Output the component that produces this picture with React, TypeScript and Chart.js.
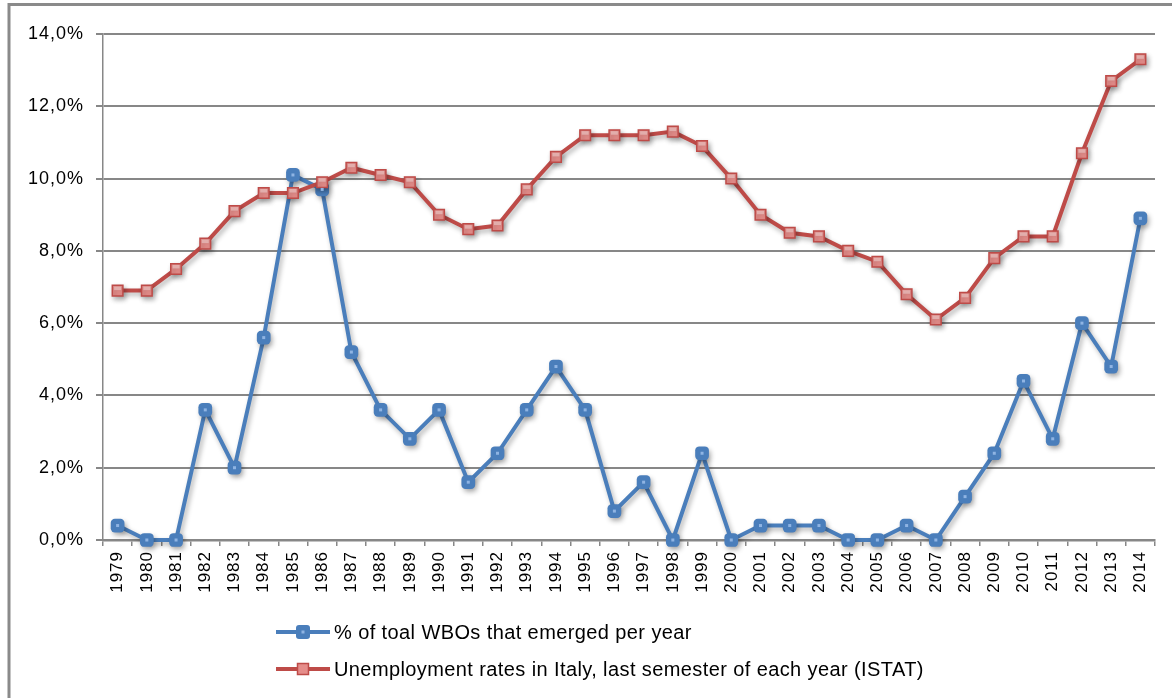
import React, { useEffect, useRef } from "react";
import { Chart, registerables } from "chart.js";

Chart.register(...registerables);

const years = [
  "1979", "1980", "1981", "1982", "1983", "1984", "1985", "1986", "1987", "1988",
  "1989", "1990", "1991", "1992", "1993", "1994", "1995", "1996", "1997", "1998",
  "1999", "2000", "2001", "2002", "2003", "2004", "2005", "2006", "2007", "2008",
  "2009", "2010", "2011", "2012", "2013", "2014",
];

const wboShare = [
  0.4, 0, 0, 3.6, 2.0, 5.6, 10.1, 9.7, 5.2, 3.6,
  2.8, 3.6, 1.6, 2.4, 3.6, 4.8, 3.6, 0.8, 1.6, 0,
  2.4, 0, 0.4, 0.4, 0.4, 0, 0, 0.4, 0, 1.2,
  2.4, 4.4, 2.8, 6.0, 4.8, 8.9,
];

const unemployment = [
  6.9, 6.9, 7.5, 8.2, 9.1, 9.6, 9.6, 9.9, 10.3, 10.1,
  9.9, 9.0, 8.6, 8.7, 9.7, 10.6, 11.2, 11.2, 11.2, 11.3,
  10.9, 10.0, 9.0, 8.5, 8.4, 8.0, 7.7, 6.8, 6.1, 6.7,
  7.8, 8.4, 8.4, 10.7, 12.7, 13.3,
];

const seriesLabels = [
  "% of toal WBOs that emerged per year",
  "Unemployment rates in Italy, last semester of each year (ISTAT)",
];

const BLUE = "#4A7EBB";
const RED = "#BE4B48";
const GRID = "#878787";

const framePlugin = {
  id: "frame",
  beforeDraw(chart: any) {
    const ctx = chart.ctx;
    ctx.save();
    ctx.fillStyle = "#ffffff";
    ctx.fillRect(0, 0, chart.width, chart.height);
    ctx.strokeStyle = "#8a8a8a";
    ctx.lineWidth = 3;
    ctx.strokeRect(9, 4.5, chart.width + 20, chart.height + 20);
    ctx.restore();
    ctx.letterSpacing = "1px";
  },
};

const shadowPlugin = {
  id: "shadow",
  beforeDatasetsDraw(chart: any) {
    const ctx = chart.ctx;
    ctx.save();
    ctx.shadowColor = "rgba(0,0,0,0.3)";
    ctx.shadowBlur = 5;
    ctx.shadowOffsetX = 2;
    ctx.shadowOffsetY = 3;
  },
  afterDatasetsDraw(chart: any) {
    const ctx = chart.ctx;
    ctx.restore();
    chart.data.datasets.forEach((ds: any, i: number) => {
      const meta = chart.getDatasetMeta(i);
      ctx.save();
      meta.data.forEach((pt: any) => {
        if (i === 0) {
          ctx.fillStyle = "#8FB4E3";
          ctx.fillRect(pt.x - 1.5, pt.y - 1.5, 3, 3);
        } else {
          ctx.fillStyle = "rgba(255,255,255,0.35)";
          ctx.fillRect(pt.x - 3.5, pt.y - 4, 7, 3.5);
        }
      });
      ctx.restore();
    });
  },
};

const legendPlugin = {
  id: "customLegend",
  afterDraw(chart: any) {
    const ctx = chart.ctx;
    const rows = [632, 669];
    const x0 = 276;
    const x1 = 330;
    chart.data.datasets.forEach((ds: any, i: number) => {
      const y = rows[i];
      ctx.save();
      ctx.strokeStyle = ds.borderColor;
      ctx.lineWidth = 4;
      ctx.beginPath();
      ctx.moveTo(x0, y);
      ctx.lineTo(x1, y);
      ctx.stroke();
      const cx = (x0 + x1) / 2;
      if (i === 0) {
        ctx.fillStyle = BLUE;
        ctx.beginPath();
        (ctx as any).roundRect(cx - 7, y - 7, 14, 14, 3);
        ctx.fill();
        ctx.fillStyle = "#8FB4E3";
        ctx.fillRect(cx - 1.5, y - 1.5, 3, 3);
      } else {
        ctx.fillStyle = "#E58D8A";
        ctx.strokeStyle = RED;
        ctx.lineWidth = 1.5;
        ctx.fillRect(cx - 5.5, y - 5.5, 11, 11);
        ctx.strokeRect(cx - 5.5, y - 5.5, 11, 11);
      }
      ctx.fillStyle = "#000000";
      ctx.font = "20px 'Liberation Sans', Arial, sans-serif";
      ctx.textBaseline = "middle";
      ctx.textAlign = "left";
      ctx.letterSpacing = "0.4px";
      ctx.fillText(seriesLabels[i], x1 + 4, y + 1);
      ctx.restore();
    });
  },
};

export default function App() {
  const ref = useRef<HTMLCanvasElement | null>(null);

  useEffect(() => {
    if (!ref.current) return;
    const chart = new Chart(ref.current, {
      type: "line",
      data: {
        labels: years,
        datasets: [
          {
            label: seriesLabels[0],
            data: wboShare,
            borderColor: BLUE,
            backgroundColor: BLUE,
            borderWidth: 4,
            tension: 0,
            clip: false,
            pointStyle: "rectRounded",
            pointRadius: 8,
            pointBackgroundColor: BLUE,
            pointBorderColor: BLUE,
            pointBorderWidth: 0,
            order: 1,
          },
          {
            label: seriesLabels[1],
            data: unemployment,
            borderColor: RED,
            backgroundColor: RED,
            borderWidth: 4,
            tension: 0,
            clip: false,
            pointStyle: "rect",
            pointRadius: 7.5,
            pointBackgroundColor: "#E58D8A",
            pointBorderColor: RED,
            pointBorderWidth: 1.5,
            order: 0,
          },
        ],
      },
      options: {
        animation: false,
        responsive: false,
        maintainAspectRatio: false,
        layout: { padding: { top: 34, right: 17, bottom: 0, left: 0 } },
        plugins: {
          legend: { display: false },
          tooltip: { enabled: false },
          title: { display: false },
        },
        scales: {
          x: {
            offset: true,
            grid: {
              offset: true,
              drawOnChartArea: false,
              drawTicks: true,
              tickLength: 6,
              color: GRID,
              lineWidth: 1.5,
            },
            border: { display: true, color: GRID, width: 2.5 },
            ticks: {
              autoSkip: false,
              minRotation: 90,
              maxRotation: 90,
              padding: 5,
              color: "#000000",
              font: { family: "'Liberation Sans', Arial, sans-serif", size: 17 },
            },
            afterFit: (scale: any) => {
              scale.height = 158;
            },
          },
          y: {
            min: 0,
            max: 14,
            grid: {
              drawOnChartArea: true,
              drawTicks: true,
              tickLength: 7,
              color: GRID,
              lineWidth: 2,
            },
            border: { display: true, color: GRID, width: 1.5 },
            ticks: {
              stepSize: 2,
              padding: 12,
              color: "#000000",
              font: { family: "'Liberation Sans', Arial, sans-serif", size: 18 },
              callback: (v: any) => Number(v).toFixed(1).replace(".", ",") + "%",
            },
            afterFit: (scale: any) => {
              scale.width = 103;
            },
          },
        },
      },
      plugins: [framePlugin, shadowPlugin, legendPlugin],
    });
    return () => chart.destroy();
  }, []);

  return (
    <div style={{ position: "fixed", left: 0, top: 0, width: 1172, height: 698, background: "#fff" }}>
      <canvas ref={ref} width={1172} height={698} style={{ display: "block", width: 1172, height: 698 }} />
    </div>
  );
}
